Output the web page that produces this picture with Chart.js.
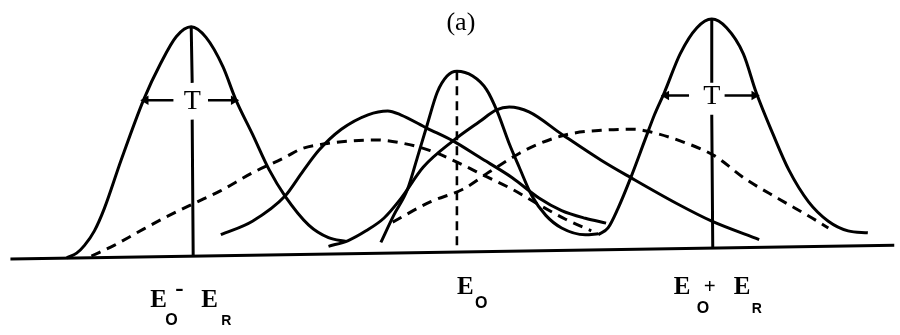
<!DOCTYPE html>
<html>
<head>
<meta charset="utf-8">
<script src="https://cdn.jsdelivr.net/npm/chart.js@4.4.1/dist/chart.umd.min.js"></script>
<style>
  html, body { margin: 0; padding: 0; background: #fff; }
  canvas { display: block; }
</style>
</head>
<body>
<canvas id="lines" width="900" height="335"></canvas>
<script>
// recoil-shifted emission / absorption lines around E0
// x: energy (arbitrary units), y: intensity above the axis

// energies of the three marked lines: E0-ER, E0, E0+ER
const energyTicks = [189, 457, 715];
const tickParts = [["E", "O", "-", "E", "R"], ["E", "O"], ["E", "O", "+", "E", "R"]];

// narrow emission line at E0-ER
const emitX = [62, 72, 80, 90, 100, 117, 140, 157, 173, 188, 203, 220, 233, 250, 267, 283, 307, 327, 345];
const emitY = [-3, 2, 10, 25, 48, 98, 161, 198, 226, 236, 225, 195, 161, 125, 88, 61, 31, 18, 14];

// narrow absorption line at E0+ER
const absX = [600, 610, 620, 633, 647, 657, 667, 683, 700, 715, 730, 747, 760, 777, 793, 813, 833, 853, 873];
const absY = [21, 28, 48, 80, 118, 145, 168, 208, 235, 244, 235, 208, 168, 125, 88, 55, 35, 25, 23];

// resonance line at E0
const resX = [380, 393, 407, 417, 427, 437, 447, 457, 473, 487, 498, 510, 520, 533, 547, 563, 587, 600];
const resY = [13, 41, 68, 101, 135, 168, 185, 190, 185, 171, 148, 115, 91, 61, 41, 28, 21, 22];

// broadened emission (solid)
const broadEmitX = [218, 250, 283, 300, 317, 340, 367, 387, 400, 427, 453, 480, 513, 540, 563, 587, 608];
const broadEmitY = [21, 35, 61, 85, 108, 130, 145, 149, 145, 131, 118, 101, 80, 59, 46, 38, 33];

// broadened absorption (solid)
const broadAbsX = [327, 347, 365, 383, 400, 423, 453, 480, 497, 510, 530, 563, 603, 633, 680, 715, 763];
const broadAbsY = [9, 15, 25, 38, 58, 91, 118, 138, 150, 153, 148, 125, 98, 80, 53, 35, 16];

// thermally broadened emission (dashed)
const hotEmitX = [87, 110, 133, 160, 190, 217, 250, 283, 300, 323, 350, 375, 400, 430, 457, 487, 513, 540, 567, 593];
const hotEmitY = [-1, 10, 23, 38, 53, 66, 85, 101, 110, 115, 118, 119, 116, 108, 96, 81, 68, 52, 37, 25];

// thermally broadened absorption (dashed)
const hotAbsX = [392, 430, 463, 490, 520, 540, 570, 603, 637, 650, 683, 717, 750, 783, 817, 833];
const hotAbsY = [34, 55, 68, 86, 105, 115, 125, 129, 130, 128, 118, 103, 78, 58, 38, 28];

// energy axis (scanned slightly tilted)
const axisX = [5, 900];
const axisY = [-4, 10];

// line-centre markers, split where the width label sits
const leftMarkX = [188, 189, 189, 189, 190];
const leftMarkY = [236, 178, null, 140, 0];
const rightMarkX = [715, 715, 715, 715, 716];
const rightMarkY = [244, 178, null, 145, 8];
const midMarkX = [457, 457];
const midMarkY = [190, 5];

// half-width arrows (tail, tip)
const widthLevels = [160, 165];
const leftArrows = [[170, 142], [205, 231]];
const rightArrows = [[692, 669], [728, 758]];

const INK = "#000";
const SERIF = "'Liberation Serif', 'DejaVu Serif', serif";
const SANS = "'Liberation Sans', Arial, sans-serif";

function pts(xs, ys) {
  return xs.map((x, i) => ({ x: x, y: ys[i] }));
}

function curve(xs, ys, dashed) {
  return {
    data: pts(xs, ys),
    borderColor: INK,
    borderWidth: 3,
    borderDash: dashed ? [10, 7] : [],
    pointRadius: 0,
    fill: false,
    cubicInterpolationMode: "monotone"
  };
}

function straight(xs, ys, width, dashed) {
  return {
    data: pts(xs, ys),
    borderColor: INK,
    borderWidth: width,
    borderDash: dashed ? [9, 6] : [],
    pointRadius: 0,
    tension: 0,
    fill: false,
    spanGaps: false
  };
}

function arrow(pair, level) {
  const tipLeft = pair[1] < pair[0];
  return {
    data: pts(pair, [level, level]),
    borderColor: INK,
    backgroundColor: INK,
    borderWidth: 2.4,
    tension: 0,
    fill: false,
    pointStyle: "triangle",
    pointRadius: [0, 5.5],
    pointBorderWidth: 0,
    rotation: tipLeft ? -90 : 90
  };
}

// text drawn on top: width labels, panel tag and the energy tick labels
const tickLayout = [
  { dx: [-42, -27, -17, 9, 29], dy: [0, 18, -11, 0, 18] },
  { dx: [0, 18], dy: [0, 14] },
  { dx: [-38, -15, -8, 22, 40], dy: [0, 19, -1, 0, 19] }
];
const tickBaseY = [-54, -40, -40];

const textPlugin = {
  id: "textPlugin",
  afterDatasetsDraw(chart) {
    const ctx = chart.ctx;
    const xs = chart.scales.x, ys = chart.scales.y;
    ctx.save();
    ctx.fillStyle = INK;

    // "T" between the half-width arrows
    ctx.textAlign = "center";
    ctx.textBaseline = "middle";
    ctx.font = "28px " + SERIF;
    ctx.fillText("T", xs.getPixelForValue(energyTicks[0]), ys.getPixelForValue(widthLevels[0]) + 1);
    ctx.fillText("T", xs.getPixelForValue(energyTicks[2]), ys.getPixelForValue(widthLevels[1]) + 1);

    // panel tag
    ctx.font = "26px " + SERIF;
    ctx.fillText("(a)", xs.getPixelForValue(461), ys.getPixelForValue(240));

    // tick labels with subscripts
    ctx.textAlign = "left";
    ctx.textBaseline = "alphabetic";
    tickParts.forEach((parts, i) => {
      const x0 = xs.getPixelForValue(energyTicks[i]);
      const y0 = ys.getPixelForValue(tickBaseY[i]);
      const lay = tickLayout[i];
      parts.forEach((p, j) => {
        if (p === "E") ctx.font = "bold 25px " + SERIF;
        else if (p === "O") ctx.font = "bold 16px " + SANS;
        else if (p === "R") ctx.font = "bold 14px " + SANS;
        else ctx.font = (p === "+" ? "bold 21px " : "bold 25px ") + SERIF;
        ctx.fillText(p, x0 + lay.dx[j], y0 + lay.dy[j]);
      });
    });
    ctx.restore();
  }
};

new Chart(document.getElementById("lines"), {
  type: "line",
  data: {
    datasets: [
      straight(axisX, axisY, 3, false),
      curve(emitX, emitY, false),
      curve(absX, absY, false),
      curve(resX, resY, false),
      curve(broadEmitX, broadEmitY, false),
      curve(broadAbsX, broadAbsY, false),
      curve(hotEmitX, hotEmitY, true),
      curve(hotAbsX, hotAbsY, true),
      straight(leftMarkX, leftMarkY, 3, false),
      straight(rightMarkX, rightMarkY, 3, false),
      straight(midMarkX, midMarkY, 2.6, true),
      arrow(leftArrows[0], widthLevels[0]),
      arrow(leftArrows[1], widthLevels[0]),
      arrow(rightArrows[0], widthLevels[1]),
      arrow(rightArrows[1], widthLevels[1])
    ]
  },
  options: {
    responsive: false,
    animation: false,
    devicePixelRatio: 1,
    layout: { padding: 0 },
    plugins: { legend: { display: false }, tooltip: { enabled: false } },
    scales: {
      x: { type: "linear", min: 0, max: 900, display: false },
      y: { type: "linear", min: -77, max: 258, display: false }
    }
  },
  plugins: [textPlugin]
});
</script>
</body>
</html>
